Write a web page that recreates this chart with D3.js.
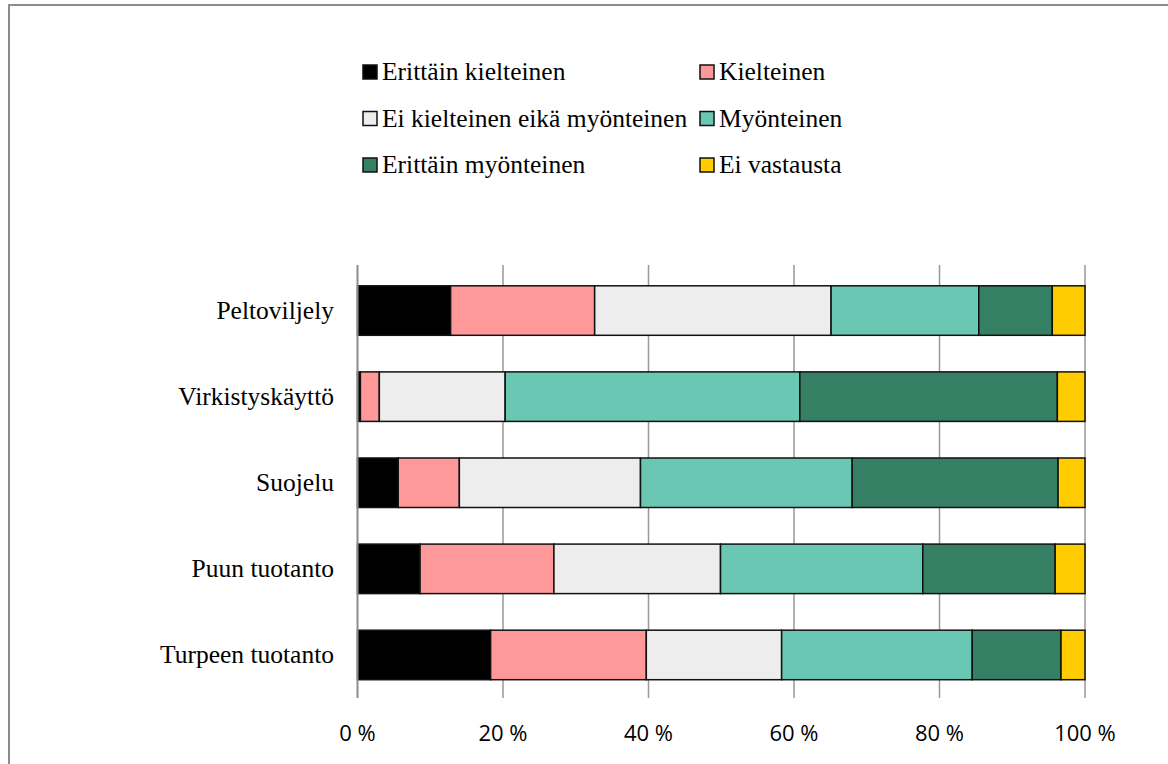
<!DOCTYPE html>
<html><head><meta charset="utf-8">
<script src="https://cdn.jsdelivr.net/npm/d3@7"></script>
<style>body{margin:0;background:#fff}svg{display:block}</style>
</head><body>
<svg id="c" width="1168" height="764"></svg>
<script>
const categories = ["Peltoviljely","Virkistyskäyttö","Suojelu","Puun tuotanto","Turpeen tuotanto"];
const seriesNames = ["Erittäin kielteinen","Kielteinen","Ei kielteinen eikä myönteinen","Myönteinen","Erittäin myönteinen","Ei vastausta"];
const seriesColors = ["#000000","#FF9999","#EDEDED","#6AC7B4","#357F64","#FFCC00"];
const erittainKielteinen = [12.8, 0.4, 5.6, 8.6, 18.3];
const kielteinen         = [19.8, 2.6, 8.4, 18.4, 21.4];
const eiKumpikaan        = [32.5, 17.3, 24.9, 22.9, 18.6];
const myonteinen         = [20.3, 40.5, 29.1, 27.8, 26.2];
const erittainMyonteinen = [10.1, 35.4, 28.3, 18.2, 12.2];
const eiVastausta        = [4.5, 3.8, 3.7, 4.1, 3.3];
const tickValues = [0,20,40,60,80,100];
const tickLabels = ["0 %","20 %","40 %","60 %","80 %","100 %"];

const seriesValues = [erittainKielteinen,kielteinen,eiKumpikaan,myonteinen,erittainMyonteinen,eiVastausta];
const rows = categories.map((c,i)=>{
  const o={cat:c}; seriesNames.forEach((s,j)=>o[s]=seriesValues[j][i]); return o;
});
rows.forEach(r=>{const t=d3.sum(seriesNames,s=>r[s]); seriesNames.forEach(s=>r[s]=r[s]/t*100);});
const stack = d3.stack().keys(seriesNames)(rows);

const svg = d3.select("#c");
svg.append("rect").attr("x",9).attr("y",5).attr("width",1180).attr("height",800)
  .attr("fill","#fff").attr("stroke","#8c8c8c").attr("stroke-width",2);

const x = d3.scaleLinear().domain([0,100]).range([357.5,1085]);
const y = d3.scaleBand().domain(categories).range([267.5,698]).paddingInner(0.425).paddingOuter(0.2125);

svg.append("g").selectAll("line").data(tickValues.slice(1)).join("line")
  .attr("x1",d=>x(d)).attr("x2",d=>x(d)).attr("y1",265).attr("y2",698)
  .attr("stroke","#999").attr("stroke-width",1.5);

const color = d3.scaleOrdinal().domain(seriesNames).range(seriesColors);
svg.append("g").selectAll("g").data(stack).join("g")
  .attr("fill",d=>color(d.key))
  .selectAll("rect").data(d=>d).join("rect")
  .attr("x",d=>x(d[0])).attr("width",d=>x(d[1])-x(d[0]))
  .attr("y",d=>y(d.data.cat)).attr("height",y.bandwidth())
  .attr("stroke","#111").attr("stroke-width",1.5);

svg.append("line").attr("x1",x(0)).attr("x2",x(0)).attr("y1",265).attr("y2",698)
  .attr("stroke","#8c8c8c").attr("stroke-width",2);

svg.append("g").selectAll("text").data(categories).join("text")
  .attr("x",334).attr("y",d=>y(d)+y.bandwidth()/2).attr("dy","0.33em")
  .attr("text-anchor","end").style("font-family","'Liberation Serif', 'Times New Roman', serif")
  .attr("font-size",25.5).attr("fill","#000").text(d=>d);

svg.append("g").selectAll("text").data(tickValues).join("text")
  .attr("x",d=>x(d)).attr("y",741).attr("text-anchor","middle")
  .style("font-family","'Open Sans', sans-serif").attr("font-size",22).attr("fill","#000")
  .text((d,i)=>tickLabels[i]);

const legX = [363,700], legY=[80,126.5,173];
const leg = svg.append("g").selectAll("g").data(seriesNames).join("g")
  .attr("transform",(d,i)=>`translate(${legX[i%2]},${legY[Math.floor(i/2)]})`);
leg.append("rect").attr("x",0).attr("y",-15).attr("width",14).attr("height",14)
  .attr("fill",d=>color(d)).attr("stroke","#111").attr("stroke-width",1.5);
leg.append("text").attr("x",19).attr("y",0)
  .style("font-family","'Liberation Serif', 'Times New Roman', serif").attr("font-size",25.5)
  .attr("fill","#000").text(d=>d);
</script>
</body></html>
